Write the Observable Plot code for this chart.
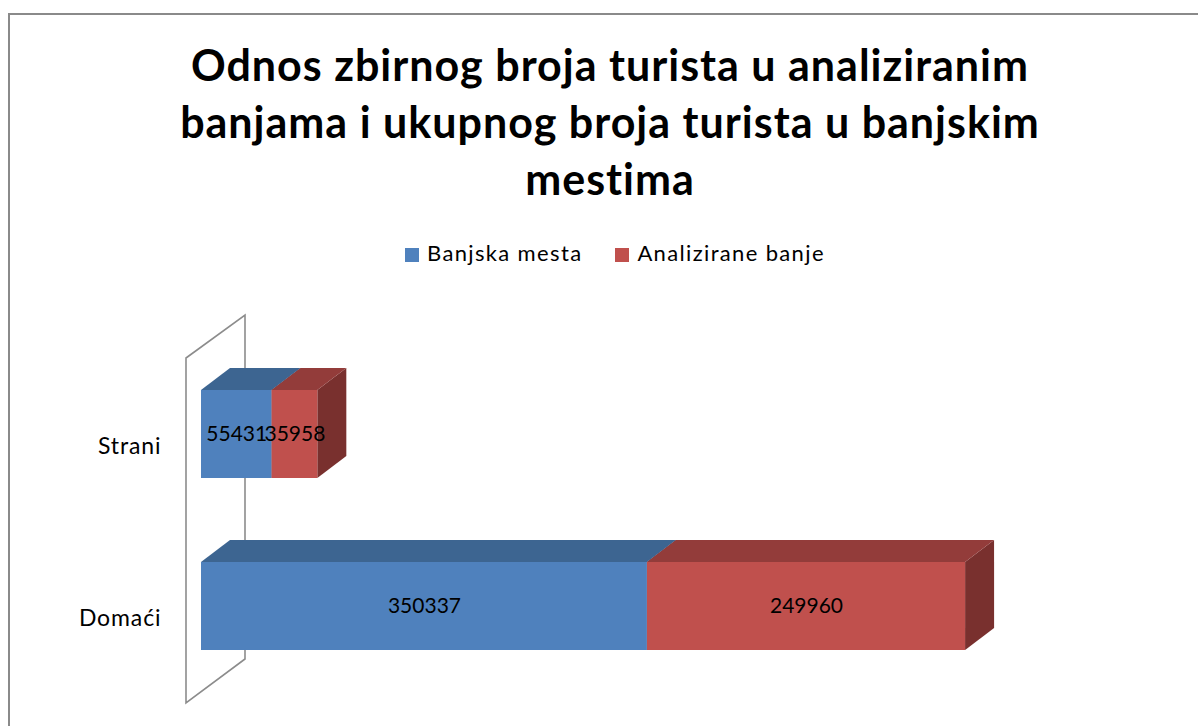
<!DOCTYPE html>
<html>
<head>
<meta charset="utf-8">
<script src="https://cdn.jsdelivr.net/npm/d3@7"></script>
<script src="https://cdn.jsdelivr.net/npm/@observablehq/plot@0.6"></script>
<style>
  html, body { margin: 0; padding: 0; background: #fff; width: 1198px; height: 726px; overflow: hidden; }
  body { position: relative; font-family: Lato, "Open Sans", sans-serif; }
  #frame { position: absolute; left: 8px; top: 13px; width: 1200px; height: 730px; border-left: 2px solid #8a8a8a; border-top: 2px solid #8a8a8a; box-sizing: border-box; }
  #title { position: absolute; left: 0; top: 36px; width: 1220px; text-align: center; font: bold 43px Lato, sans-serif; letter-spacing: 1px; line-height: 57px; color: #000; }
  #legend { position: absolute; top: 239px; left: 405px; font: 22px Lato, sans-serif; letter-spacing: 1.35px; color: #000; white-space: nowrap; }
  #legend span.sw { display: inline-block; width: 14px; height: 14px; margin-right: 8px; vertical-align: -1px; }
  #legend span.item { margin-right: 33px; }
  #chart { position: absolute; left: 0; top: 290px; }
</style>
</head>
<body>
<div id="frame"></div>
<div id="title">Odnos zbirnog broja turista u analiziranim<br>banjama i ukupnog broja turista u banjskim<br>mestima</div>
<div id="legend"></div>
<div id="chart"></div>
<script>
const categories = ["Strani", "Domaći"];
const series = ["Banjska mesta", "Analizirane banje"];
const banjskaMesta = [55431, 350337];
const analiziraneBanje = [35958, 249960];
const frontColors = ["#4f81bd", "#c0504d"];
const topColors = ["#3d6591", "#933c3a"];
const sideColors = ["#2f4f74", "#79302e"];

const values = [banjskaMesta, analiziraneBanje];
const rows = [];
categories.forEach((c, i) => {
  let acc = 0;
  series.forEach((s, k) => {
    const v = values[k][i];
    rows.push({category: c, series: s, k, value: v, x1: acc, x2: acc + v});
    acc += v;
  });
});

// legend
const legend = document.getElementById("legend");
series.forEach((s, k) => {
  const item = document.createElement("span");
  item.className = "item";
  item.innerHTML = `<span class="sw" style="background:${frontColors[k]}"></span>${s}`;
  legend.appendChild(item);
});

const DX = 29, DY = -22, INSET = 42;
const svgNS = "http://www.w3.org/2000/svg";
function poly(pts, fill, stroke, sw) {
  const p = document.createElementNS(svgNS, "polygon");
  p.setAttribute("points", pts.map(d => d.join(",")).join(" "));
  p.setAttribute("fill", fill);
  if (stroke) { p.setAttribute("stroke", stroke); p.setAttribute("stroke-width", sw); p.setAttribute("stroke-linejoin", "miter"); }
  return p;
}
function bw(scale) { return typeof scale.bandwidth === "function" ? scale.bandwidth() : 0; }

// back wall
function wallMark(index, scales) {
  const g = document.createElementNS(svgNS, "g");
  const x0 = scales.x(0) - 15;
  const r = scales.y.range ? scales.y.range() : [58, 402];
  const yTop = Math.min(...r) + 10, yBot = Math.max(...r) + 11;
  g.appendChild(poly([[x0, yTop], [x0 + 2 * DX + 1, yTop + 2 * DY + 1], [x0 + 2 * DX + 1, yBot + 2 * DY], [x0, yBot]], "none", "#8c8c8c", 1.6));
  return g;
}

// top & side faces, drawn segment by segment so later segments hide inner sides
function depthMark(index, scales) {
  const g = document.createElementNS(svgNS, "g");
  const b = bw(scales.y);
  for (const d of rows) {
    const xa = scales.x(d.x1), xb = scales.x(d.x2);
    const yt = scales.y(d.category) + INSET, yb = scales.y(d.category) + b - INSET;
    g.appendChild(poly([[xb, yt], [xb + DX, yt + DY], [xb + DX, yb + DY], [xb, yb]], sideColors[d.k]));
    g.appendChild(poly([[xa, yt], [xa + DX, yt + DY], [xb + DX, yt + DY], [xb, yt]], topColors[d.k]));
  }
  return g;
}

const chart = Plot.plot({
  width: 1198,
  height: 436,
  marginLeft: 201,
  marginRight: 106,
  marginTop: 58,
  marginBottom: 34,
  x: {domain: [0, 700000], axis: null},
  y: {domain: categories, padding: 0, axis: null},
  color: {domain: series, range: frontColors},
  style: {fontFamily: "Lato, sans-serif", background: "transparent", overflow: "visible"},
  marks: [
    wallMark,
    depthMark,
    Plot.rectX(rows, {y: "category", x1: "x1", x2: "x2", fill: "series", insetTop: INSET, insetBottom: INSET}),
    Plot.text(rows, {y: "category", x: d => (d.x1 + d.x2) / 2, text: d => String(d.value), fill: "#000", fontSize: 21}),
    Plot.text(categories, {y: d => d, frameAnchor: "left", x: 0, dx: -40, dy: 12, text: d => d, textAnchor: "end", fill: "#000", fontSize: 23})
  ]
});
chart.querySelectorAll("text").forEach(t => { if (categories.includes(t.textContent)) t.setAttribute("letter-spacing", "0.9"); });
document.getElementById("chart").appendChild(chart);
</script>
</body>
</html>
